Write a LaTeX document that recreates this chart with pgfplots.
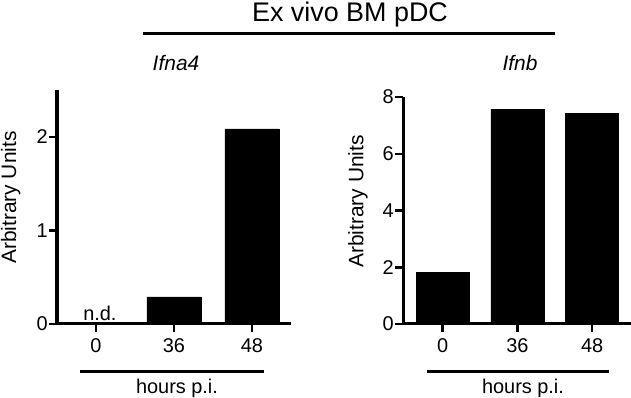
\documentclass[border=0pt]{standalone}
\usepackage{fontspec}
\setmainfont{Liberation Sans}
\usepackage{pgfplots}
\pgfplotsset{compat=1.18}
\pgfplotsset{
  myaxis/.style={
    scale only axis, anchor=south west,
    axis x line=bottom, axis y line=left,
    axis line style={-, line width=3bp, black},
    every tick/.style={line width=2.5bp, black},
    tick align=outside, major tick length=8bp,
    xtick={0,1,2}, xticklabels={0,36,48},
    /pgf/number format/assume math mode=true,
    ticklabel style={font=\fontsize{20}{20}\selectfont},
    xticklabel style={yshift=-3bp},
    yticklabel style={inner sep=1bp},
    ylabel={Arbitrary Units},
    ylabel style={font=\fontsize{21}{21}\selectfont, at={(axis description cs:-0.198,0.54)}, anchor=center},
    ymin=0, clip=false,
  }
}
\begin{document}
\begin{tikzpicture}
\useasboundingbox (0bp,0bp) rectangle (631bp,398bp);
% left panel
\begin{axis}[myaxis, at={(57bp,74bp)}, width=234bp, height=234bp,
  xmin=-0.5, xmax=2.5, ymax=2.5, ytick={0,1,2}]
\addplot[ybar, bar width=54bp, fill=black, draw=black] coordinates {(1,0.29) (2,2.085)};
\node[anchor=base, font=\fontsize{20}{20}\selectfont] at (axis cs:0.05,0.04) {n.d.};
\end{axis}
% right panel
\begin{axis}[myaxis, at={(403bp,74bp)}, width=228bp, height=227bp,
  xmin=-0.53, xmax=2.52, ymax=8, ytick={0,2,4,6,8}]
\addplot[ybar, bar width=53bp, fill=black, draw=black] coordinates {(0,1.83) (1,7.57) (2,7.43)};
\end{axis}
% titles
\node[anchor=base, font=\fontsize{27}{27}\selectfont] at (350bp,376bp) {Ex vivo BM pDC};
\draw[line width=3bp] (143bp,364bp) -- (555bp,364bp);
\node[font=\fontsize{21}{21}\selectfont\itshape] at (176bp,335bp) {Ifna4};
\node[font=\fontsize{21}{21}\selectfont\itshape] at (520bp,335bp) {Ifnb};
% hours p.i.
\draw[line width=3bp] (80bp,26bp) -- (264bp,26bp);
\draw[line width=3bp] (427bp,26bp) -- (609bp,26bp);
\node[anchor=base, font=\fontsize{20}{20}\selectfont] at (177bp,5bp) {hours p.i.};
\node[anchor=base, font=\fontsize{20}{20}\selectfont] at (523bp,5bp) {hours p.i.};
\end{tikzpicture}
\end{document}
